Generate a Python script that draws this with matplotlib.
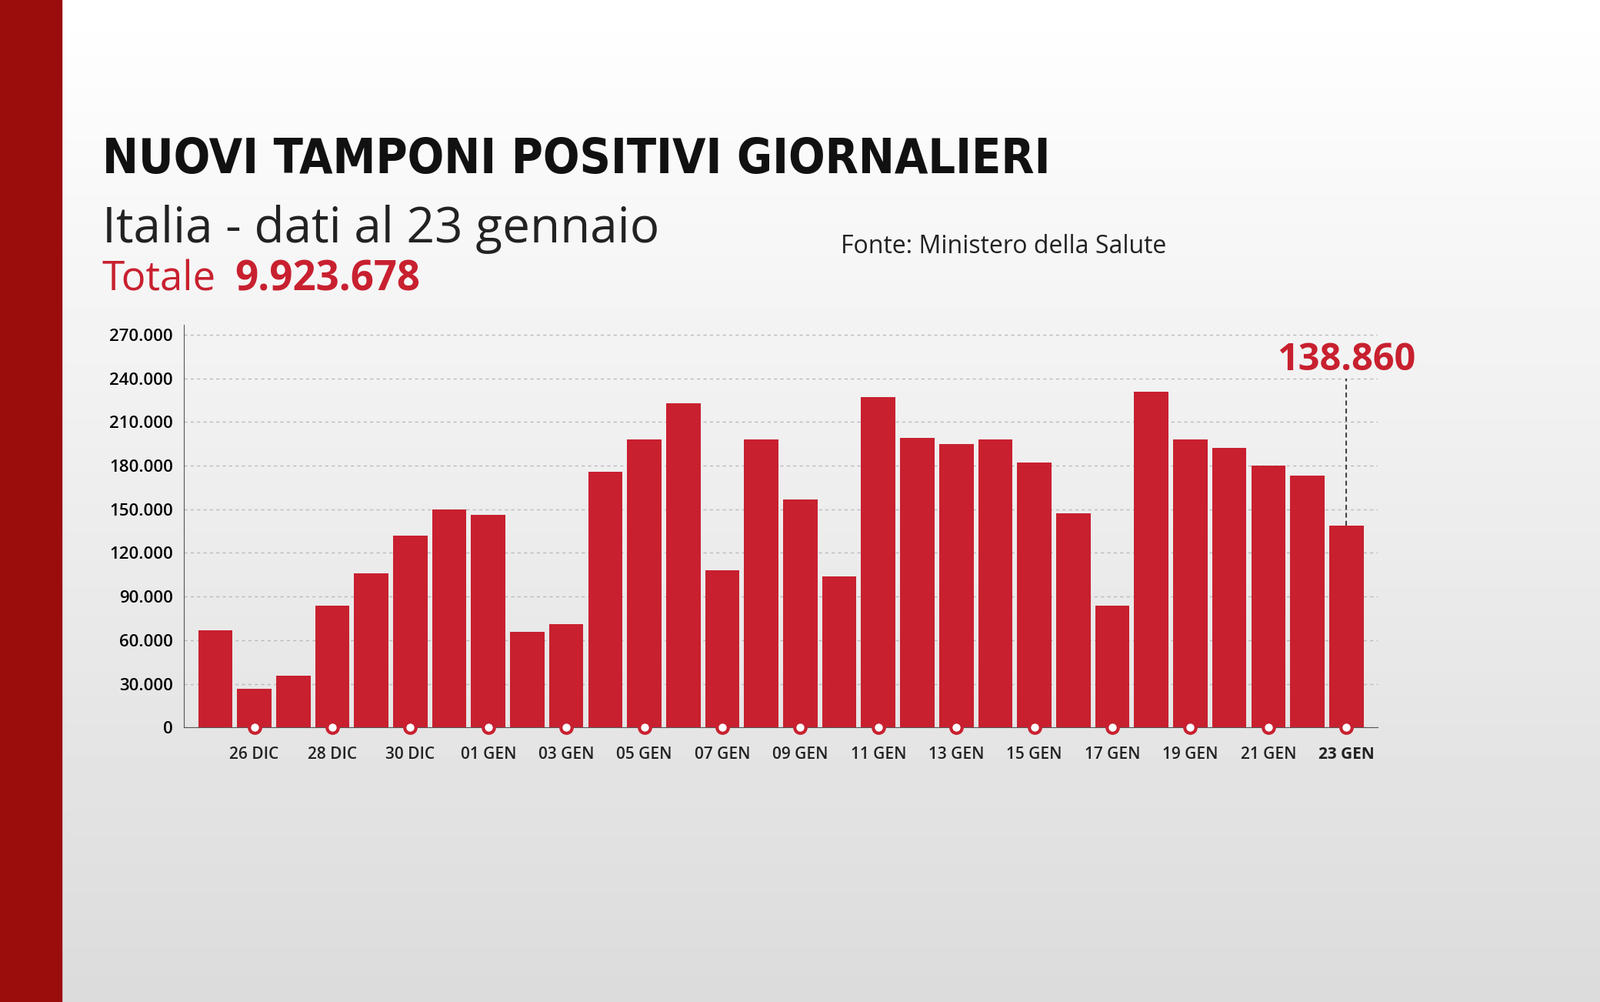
import matplotlib
matplotlib.use("Agg")
import matplotlib.pyplot as plt
import numpy as np
from matplotlib.ticker import FuncFormatter

days = ["25 DIC","26 DIC","27 DIC","28 DIC","29 DIC","30 DIC","31 DIC","01 GEN","02 GEN","03 GEN",
        "04 GEN","05 GEN","06 GEN","07 GEN","08 GEN","09 GEN","10 GEN","11 GEN","12 GEN","13 GEN",
        "14 GEN","15 GEN","16 GEN","17 GEN","18 GEN","19 GEN","20 GEN","21 GEN","22 GEN","23 GEN"]
values = [67000, 26400, 35700, 84000, 105700, 132000, 150000, 146000, 66000, 71000,
          176000, 198000, 223000, 108000, 198000, 157000, 104000, 227000, 199000, 195000,
          198000, 182000, 147000, 84000, 231000, 198000, 192000, 180000, 173000, 138860]
yticks = [0, 30000, 60000, 90000, 120000, 150000, 180000, 210000, 240000, 270000]

RED = "#c8202f"
W, H = 1568, 982
fig = plt.figure(figsize=(20.8, 13.02), dpi=100)

bg = fig.add_axes([0, 0, 1, 1], zorder=-10)
grad = np.linspace(1.0, 0.86, 256)[:, None]
bg.imshow(grad, cmap="gray", vmin=0, vmax=1, aspect="auto", extent=[0, 1, 0, 1])
bg.add_patch(plt.Rectangle((0, 0), 60 / W, 1, color="#9b0d0d"))
bg.set_xlim(0, 1); bg.set_ylim(0, 1); bg.axis("off")

def fx(px): return px / W
def fy(py): return 1 - py / H

fig.text(fx(100), fy(157), "NUOVI TAMPONI POSITIVI GIORNALIERI", fontsize=45, fontweight="bold",
         fontstretch="condensed", family="DejaVu Sans", va="center", color="#111111")
fig.text(fx(100), fy(225), "Italia - dati al 23 gennaio", fontsize=46, va="center", color="#222222", family="Open Sans")
fig.text(fx(100), fy(274), "Totale", fontsize=38, va="center", color=RED, family="Open Sans")
fig.text(fx(230), fy(274), "9.923.678", fontsize=38, va="center", color=RED, fontweight="bold", family="Open Sans")
fig.text(fx(824), fy(242), "Fonte: Ministero della Salute", fontsize=23, va="center", color="#222222", family="Open Sans")

ax = fig.add_axes([fx(180), fy(713), fx(1350) - fx(180), fy(318) - fy(713)])
ax.patch.set_alpha(0)
x = np.arange(len(values))
ax.bar(x, values, width=0.88, color=RED, zorder=3)
ax.set_xlim(-0.81, 29.8)
ax.set_ylim(0, 277000)
ax.set_yticks(yticks)
ax.yaxis.set_major_formatter(FuncFormatter(lambda v, p: f"{int(v):,}".replace(",", ".")))
ax.grid(axis="y", linestyle=(0, (3, 3)), color="#bbbbbb", linewidth=1, zorder=0)
for s in ["top", "right"]:
    ax.spines[s].set_visible(False)
ax.spines["left"].set_color("#555555")
ax.spines["bottom"].set_color("#555555")
ax.tick_params(axis="y", length=0, labelsize=16, pad=10)
for t in ax.get_yticklabels():
    t.set_family("Open Sans"); t.set_fontweight("semibold")
tick_idx = list(range(1, 30, 2))
ax.set_xticks(tick_idx)
ax.set_xticklabels([days[i] for i in tick_idx], fontsize=15, family="Open Sans", fontweight="semibold", color="#222222")
ax.get_xticklabels()[-1].set_fontweight("bold")
ax.tick_params(axis="x", length=0, pad=18)
ax.scatter(tick_idx, [0] * len(tick_idx), s=110, facecolor="white", edgecolor=RED, linewidth=3,
           zorder=5, clip_on=False)
ax.plot([29, 29], [values[-1], 240000], color="#444444", linestyle=(0, (3, 2)), linewidth=1.5, zorder=4)
ax.text(29, 252000, f"{values[-1]:,}".replace(",", "."), color=RED, fontsize=35, fontweight="bold",
        ha="center", va="center", family="Open Sans")

fig.savefig("out.png", dpi=100)
